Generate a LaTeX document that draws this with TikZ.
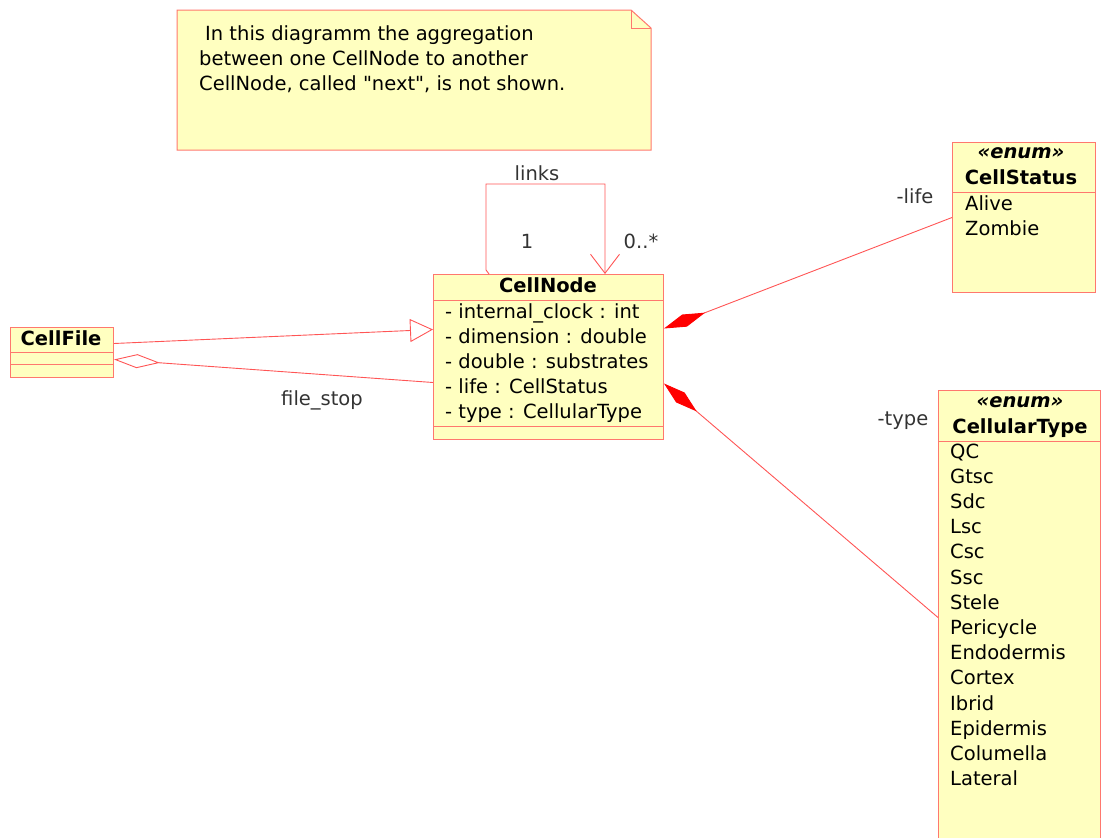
\documentclass[tikz,border=0pt]{standalone}
\usepackage{fontspec}
\setmainfont{DejaVu Sans}[Ligatures=TeXOff]
\usetikzlibrary{calc,arrows.meta}
\definecolor{umlfill}{RGB}{255,255,192}
\definecolor{umlborder}{RGB}{255,120,110}
\definecolor{umlline}{RGB}{255,85,85}
\definecolor{labelgray}{RGB}{51,51,51}
\newcommand{\umlfont}{\fontsize{19.5}{24}\selectfont}
\begin{document}
\begin{tikzpicture}[x=1pt,y=-1pt,
  umlbox/.style={draw=umlborder, fill=umlfill, line width=1pt, inner sep=0pt, anchor=north west, rectangle},
  sep/.style={draw=umlborder, line width=1pt},
  cls/.style={font=\bfseries\umlfont, inner sep=0pt, anchor=base},
  stereo/.style={font=\bfseries\itshape\umlfont, inner sep=0pt, anchor=base},
  attr/.style={font=\umlfont, inner sep=0pt, anchor=base west},
  lbl/.style={font=\umlfont, text=labelgray, inner sep=0pt, anchor=base},
  conn/.style={draw=umlline, line width=0.9pt},
]
\useasboundingbox (0,0) rectangle (1101,838);
\clip (0,0) rectangle (1101,838);

% note with folded corner
\draw[umlborder, fill=umlfill, line width=1pt]
  (177,10) -- (631,10) -- (651,28) -- (651,150) -- (177,150) -- cycle;
\draw[umlborder, line width=1pt] (631,10) -- (631,28) -- (651,28);
\node[attr] (note1) at (199,40) {\hspace*{6pt}In this diagramm the aggregation};
\node[attr] (note2) at (199,65) {between one CellNode to another};
\node[attr] (note3) at (199,90) {CellNode, called "next", is not shown.};

% class CellNode
\node[umlbox, minimum width=230pt, minimum height=165pt] (cellnode) at (433,274) {};
\draw[sep] (433,300) -- (663,300);
\draw[sep] (433,426) -- (663,426);
\node[cls] (cellnodename) at (548,292) {CellNode};
\node[attr] (a1) at (445,318) {- internal\_clock : int};
\node[attr] (a2) at (445,343) {- dimension : double};
\node[attr] (a3) at (445,368) {- double : substrates};
\node[attr] (a4) at (445,393) {- life : CellStatus};
\node[attr] (a5) at (445,418) {- type : CellularType};

% class CellFile
\node[umlbox, minimum width=103pt, minimum height=50pt] (cellfile) at (10,327) {};
\draw[sep] (10,352) -- (113,352);
\draw[sep] (10,364) -- (113,364);
\node[cls] (cellfilename) at (61,345) {CellFile};

% enum CellStatus
\node[umlbox, minimum width=143pt, minimum height=150pt] (cellstatus) at (952,142) {};
\draw[sep] (952,192) -- (1095,192);
\node[stereo] (st1) at (1021,158) {«enum»};
\node[cls] (cellstatusname) at (1021,184) {CellStatus};
\node[attr] (alive) at (965,210) {Alive};
\node[attr] (zombie) at (965,235) {Zombie};

% enum CellularType
\node[umlbox, minimum width=162pt, minimum height=460pt] (celltype) at (938,390) {};
\draw[sep] (938,441) -- (1100,441);
\node[stereo] (st2) at (1020,407) {«enum»};
\node[cls] (celltypename) at (1020,433) {CellularType};
\foreach \lit [count=\k from 0] in {QC,Gtsc,Sdc,Lsc,Csc,Ssc,Stele,Pericycle,Endodermis,Cortex,Ibrid,Epidermis,Columella,Lateral}
  \node[attr] (lit\k) at (950,458+25.2*\k) {\lit};

% generalization CellFile -> CellNode
\draw[conn, -{Triangle[open, length=23pt, width=23pt]}]
  ([yshift=9pt]cellfile.east) -- ([yshift=27.5pt]cellnode.west);

% aggregation file_stop
\draw[conn, {Diamond[open, length=46pt, width=14pt]}-]
  ([yshift=-7pt]cellfile.east) -- ([yshift=-25.5pt]cellnode.west);
\node[lbl] (filestop) at (322,405) {file\_stop};

% self association links
\draw[conn, -{Straight Barb[length=19pt, width=29pt]}]
  ([xshift=56pt]cellnode.north west) -- ++(-3,-4) -- ++(0,-86) -- ++(119,0)
  -- ([xshift=172pt]cellnode.north west);
\node[lbl] (links) at (537,180) {links};
\node[lbl] (mult1) at (527,248) {1};
\node[lbl] (mult2) at (641,248) {0..*};

% composition life
\draw[conn, {Diamond[length=44pt, width=13pt, color=red, fill=red]}-]
  ([yshift=28.5pt]cellnode.east) -- (cellstatus.west);
\node[lbl] (life) at (915,203) {-life};

% composition type
\draw[conn, {Diamond[length=43pt, width=13pt, color=red, fill=red]}-]
  ([yshift=-26.5pt]cellnode.east) -- ([yshift=3pt]celltype.west);
\node[lbl] (type) at (903,425) {-type};
\end{tikzpicture}
\end{document}
